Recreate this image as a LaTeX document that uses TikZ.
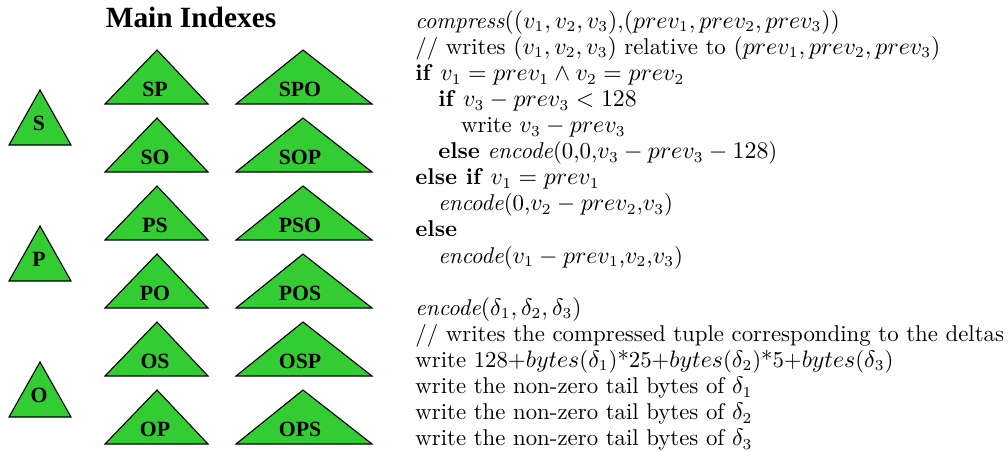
\documentclass[tikz,border=0pt]{standalone}
\usepackage{fontspec}
\usepackage{amsmath}
\usepackage{tikz}
\usetikzlibrary{positioning}
\newfontfamily\timesfont{Liberation Serif}
\definecolor{idxgreen}{RGB}{51,204,51}
\tikzset{
    idxtri/.style={draw=black, fill=idxgreen, line width=0.5pt, line join=miter},
    idxlabel/.style={font=\timesfont\bfseries\fontsize{10}{12}\selectfont, inner sep=0pt},
    codeblock/.style={align=left, inner sep=0pt, font=\fontsize{10.5}{12}\selectfont}
}

\begin{document}
\begin{tikzpicture}[x=0.46pt, y=-0.46pt]
    \useasboundingbox (0,0) rectangle (1008,450);

    % title
    \node[font=\timesfont\bfseries\fontsize{13.5}{16}\selectfont, anchor=base] (title) at (191,27) {Main Indexes};

    % single-term triangles
    \foreach \lbl [count=\i from 0] in {S,P,O} {
        \draw[idxtri] (9,145+136*\i) -- (40,90+136*\i) -- (71,145+136*\i) -- cycle;
        \node[idxlabel] (t\lbl) at (39,123+136*\i) {\lbl};
    }

    % two-term and three-term triangles
    \foreach \two/\three [count=\i from 0] in {SP/SPO,SO/SOP,PS/PSO,PO/POS,OS/OSP,OP/OPS} {
        \draw[idxtri] (105,104+68*\i) -- (157,50+68*\i) -- (208,104+68*\i) -- cycle;
        \node[idxlabel] (t\two) at (155,89+68*\i) {\two};
        \draw[idxtri] (236,104+68*\i) -- (303,50+68*\i) -- (372,104+68*\i) -- cycle;
        \node[idxlabel] (t\three) at (300,89+68*\i) {\three};
    }

    % compression pseudo code
    \node[codeblock, anchor=north west] (code) at (415,10) {%
        \textit{compress}$((v_1, v_2, v_3)$,$(prev_1, prev_2, prev_3))$\\
        // writes $(v_1, v_2, v_3)$ relative to $(prev_1, prev_2, prev_3)$\\
        \textbf{if} $v_1 = prev_1 \wedge v_2 = prev_2$\\
        \hspace*{1em}\textbf{if} $v_3 - prev_3 < 128$\\
        \hspace*{2em}write $v_3 - prev_3$\\
        \hspace*{1em}\textbf{else} \textit{encode}(0,0,$v_3 - prev_3 - 128$)\\
        \textbf{else if} $v_1 = prev_1$\\
        \hspace*{1em}\textit{encode}(0,$v_2 - prev_2$,$v_3$)\\
        \textbf{else}\\
        \hspace*{1em}\textit{encode}($v_1 - prev_1$,$v_2$,$v_3$)\\
        \mbox{}\\
        \textit{encode}$(\delta_1, \delta_2, \delta_3)$\\
        // writes the compressed tuple corresponding to the deltas\\
        write 128+$bytes$($\delta_1$)*25+$bytes$($\delta_2$)*5+$bytes$($\delta_3$)\\
        write the non-zero tail bytes of $\delta_1$\\
        write the non-zero tail bytes of $\delta_2$\\
        write the non-zero tail bytes of $\delta_3$};
\end{tikzpicture}
\end{document}
